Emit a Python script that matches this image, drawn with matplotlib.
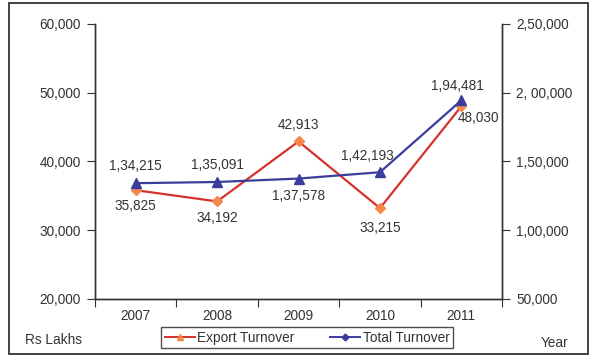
import matplotlib.pyplot as plt
from matplotlib.lines import Line2D
from matplotlib.patches import Rectangle
import matplotlib.ticker as mticker

plt.rcParams['font.family'] = ['Liberation Sans', 'DejaVu Sans']

years = ["2007", "2008", "2009", "2010", "2011"]
export_turnover = [35825, 34192, 42913, 33215, 48030]
total_turnover = [134215, 135091, 137578, 142193, 194481]
export_labels = ["35,825", "34,192", "42,913", "33,215", "48,030"]
total_labels = ["1,34,215", "1,35,091", "1,37,578", "1,42,193", "1,94,481"]
left_ticks = [20000, 30000, 40000, 50000, 60000]
left_ticklabels = ["20,000", "30,000", "40,000", "50,000", "60,000"]
right_ticks = [50000, 100000, 150000, 200000, 250000]
right_ticklabels = ["50,000", "1,00,000", "1,50,000", "2, 00,000", "2,50,000"]

red = "#d7312b"
orange = "#f4874b"
navy = "#3a3d9c"
txt = "#333333"
fs = 9.8

fig = plt.figure(figsize=(5.96, 3.57), dpi=100)
ax = fig.add_axes([0.1594, 0.1625, 0.683, 0.7703])
ax2 = ax.twinx()

x = list(range(len(years)))
ax.plot(x, export_turnover, color=red, lw=1.6, marker="D", ms=5,
        mfc=orange, mec=orange, zorder=3)
ax2.plot(x, total_turnover, color=navy, lw=1.6, marker="^", ms=6.5,
         mfc=navy, mec=navy, zorder=3)

ax.set_xlim(-0.5, 4.5)
ax.set_ylim(20000, 60000)
ax2.set_ylim(50000, 250000)

ax.set_yticks(left_ticks)
ax.set_yticklabels(left_ticklabels)
ax2.set_yticks(right_ticks)
ax2.set_yticklabels(right_ticklabels)

# category ticks sit between years, labels centred on years
ax.set_xticks([i - 0.5 for i in range(len(years) + 1)])
ax.set_xticklabels([])
ax.xaxis.set_minor_locator(mticker.FixedLocator(x))
ax.set_xticklabels(years, minor=True)
ax.tick_params(axis="x", which="minor", length=0, pad=7, labelsize=fs, colors=txt)
ax.tick_params(axis="x", which="major", length=6, direction="out", color=txt)
ax.tick_params(axis="y", length=6, labelsize=fs, colors=txt, pad=4)
ax2.tick_params(axis="y", length=6, labelsize=fs, colors=txt, pad=4)

for a in (ax, ax2):
    a.spines["top"].set_visible(False)
    for s in ("left", "right", "bottom"):
        a.spines[s].set_color(txt)
        a.spines[s].set_linewidth(1.0)

# value labels (offsets in pixels)
export_offsets = [(0, -16), (0, -17), (0, 16), (0, -20), (17, -12)]
total_offsets = [(0, 17), (0, 17), (0, -17), (-13, 16), (-4, 14)]
for i in x:
    dx, dy = export_offsets[i]
    ax.annotate(export_labels[i], (i, export_turnover[i]),
                xytext=(dx * 0.72, dy * 0.72), textcoords="offset points",
                ha="center", va="center", fontsize=fs, color=txt)
    dx, dy = total_offsets[i]
    ax2.annotate(total_labels[i], (i, total_turnover[i]),
                 xytext=(dx * 0.72, dy * 0.72), textcoords="offset points",
                 ha="center", va="center", fontsize=fs, color=txt)

handles = [
    Line2D([], [], color=red, lw=1.4, marker="^", ms=5, mfc=orange, mec=orange),
    Line2D([], [], color=navy, lw=1.4, marker="D", ms=3.5, mfc=navy, mec=navy),
]
leg = fig.legend(handles, ["Export Turnover", "Total Turnover"], ncol=2,
                 loc="center", bbox_to_anchor=(0.515, 0.054), fontsize=fs,
                 frameon=True, fancybox=False, edgecolor="#222222",
                 handlelength=2.2, handletextpad=0.2, columnspacing=2.6,
                 borderpad=0.25, labelcolor=txt)
leg.get_frame().set_linewidth(1.0)

fig.text(0.042, 0.047, "Rs Lakhs", fontsize=fs, color=txt, va="center")
fig.text(0.908, 0.04, "Year", fontsize=fs, color=txt, va="center")

# outer frame
fig.patches.append(Rectangle((0.015, 0.008), 0.972, 0.983, transform=fig.transFigure,
                             fill=False, edgecolor="#222222", lw=1.2))

fig.savefig("out.png", dpi=100)
